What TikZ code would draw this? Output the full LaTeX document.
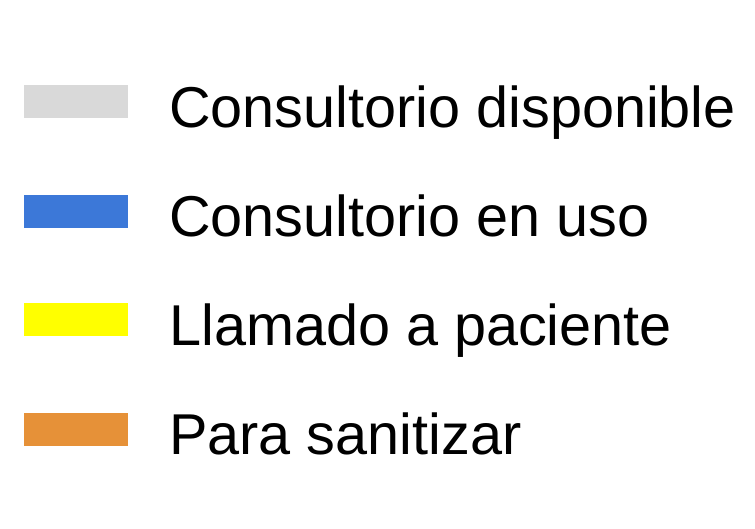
\documentclass[tikz,border=0pt]{standalone}
\usepackage{fontspec}
\setmainfont{Liberation Sans}
\definecolor{cgray}{HTML}{D9D9D9}
\definecolor{cblue}{HTML}{3C78D8}
\definecolor{cyellow}{HTML}{FFFF00}
\definecolor{corange}{HTML}{E69138}
\tikzset{
  swatch/.style={minimum width=104pt, minimum height=33pt, inner sep=0pt, draw=none, anchor=west},
  lbl/.style={anchor=base west, inner sep=0pt, font=\fontsize{57.6}{60}\selectfont}
}
\begin{document}
\begin{tikzpicture}[x=1pt,y=-1pt]
\useasboundingbox[fill=white] (0,0) rectangle (755,528);
\node[swatch, fill=cgray]   (s1) at (24,101.5) {};
\node[swatch, fill=cblue]   (s2) at (24,211) {};
\node[swatch, fill=cyellow] (s3) at (24,319.5) {};
\node[swatch, fill=corange] (s4) at (24,429) {};
\node[lbl] (t1) at (169,127) {Consultorio disponible};
\node[lbl] (t2) at (169,236) {Consultorio en uso};
\node[lbl] (t3) at (169,345) {Llamado a paciente};
\node[lbl] (t4) at (169,454) {Para sanitizar};
\end{tikzpicture}
\end{document}
